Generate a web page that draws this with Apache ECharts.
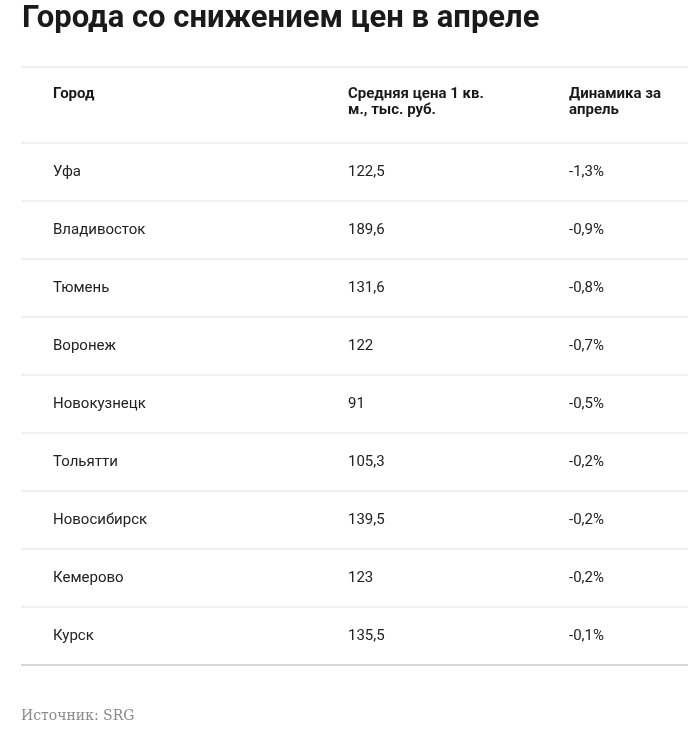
<!DOCTYPE html>
<html>
<head>
<meta charset="utf-8">
<title>Города со снижением цен в апреле</title>
<script src="https://cdn.jsdelivr.net/npm/echarts@6/dist/echarts.min.js"></script>
<style>
  html, body { margin: 0; padding: 0; background: #fff; }
  #table { width: 688px; height: 732px; }
</style>
</head>
<body>
<div id="table"></div>
<script>
  var titleText = 'Города со снижением цен в апреле';
  var headers = ['Город', 'Средняя цена 1 кв.\nм., тыс. руб.', 'Динамика за\nапрель'];
  var cities = ['Уфа', 'Владивосток', 'Тюмень', 'Воронеж', 'Новокузнецк', 'Тольятти', 'Новосибирск', 'Кемерово', 'Курск'];
  var prices = ['122,5', '189,6', '131,6', '122', '91', '105,3', '139,5', '123', '135,5'];
  var changes = ['-1,3%', '-0,9%', '-0,8%', '-0,7%', '-0,5%', '-0,2%', '-0,2%', '-0,2%', '-0,1%'];
  var sourceText = 'Источник: SRG';

  var colX = [53, 348, 569];
  var headTop = 67, bodyTop = 143, rowH = 58;
  var font = 'Roboto, "Noto Sans", sans-serif';

  var myChart = echarts.init(document.getElementById('table'));
  var els = [];

  els.push({ type: 'text', left: 22, top: 4,
    style: { text: titleText, font: 'bold 31px ' + font, fill: '#1a1a1a' } });

  // lines
  els.push({ type: 'line', shape: { x1: 21, y1: headTop, x2: 688, y2: headTop },
    style: { stroke: '#e2e2e2', lineWidth: 1 } });
  for (var i = 0; i < cities.length; i++) {
    var y = bodyTop + i * rowH;
    els.push({ type: 'line', shape: { x1: 21, y1: y, x2: 688, y2: y },
      style: { stroke: '#e2e2e2', lineWidth: 1 } });
  }
  var yEnd = bodyTop + cities.length * rowH;
  els.push({ type: 'line', shape: { x1: 21, y1: yEnd, x2: 688, y2: yEnd },
    style: { stroke: '#d6d6d6', lineWidth: 2 } });

  // header
  for (var c = 0; c < headers.length; c++) {
    els.push({ type: 'text', x: colX[c], y: 86,
      style: { text: headers[c], font: 'bold 15px ' + font, fill: '#1a1a1a', lineHeight: 16 } });
  }

  // body
  var cols = [cities, prices, changes];
  for (var r = 0; r < cities.length; r++) {
    for (var k = 0; k < cols.length; k++) {
      els.push({ type: 'text', x: colX[k], y: bodyTop + r * rowH + rowH / 2,
        style: { text: cols[k][r], font: '15px ' + font, fill: '#222', verticalAlign: 'middle' } });
    }
  }

  els.push({ type: 'text', x: 21, y: 716,
    style: { text: sourceText, font: '14px "DejaVu Serif", "Liberation Serif", serif', fill: '#8a8a8a', verticalAlign: 'middle' } });

  myChart.setOption({ animation: false, graphic: { elements: els } });
</script>
</body>
</html>
